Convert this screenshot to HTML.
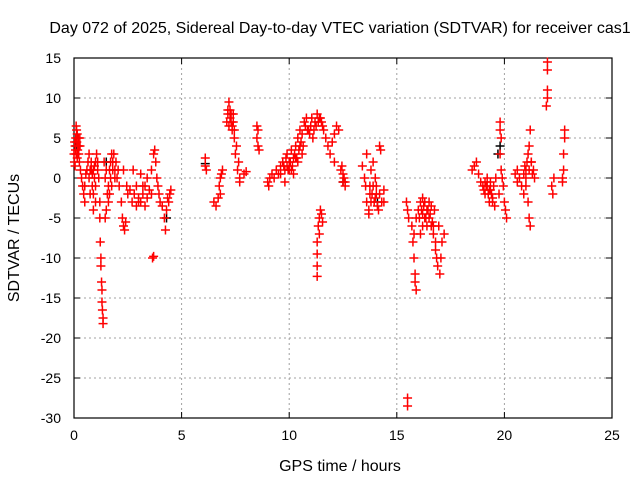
<!DOCTYPE html>
<html><head><meta charset="utf-8"><style>
body{margin:0;background:#fff}
svg{display:block;font-family:"Liberation Sans",sans-serif;font-size:14px}
</style></head><body>
<svg id="c" width="640" height="480">
<text x="340" y="33" text-anchor="middle" style="font-size:16px">Day 072 of 2025, Sidereal Day-to-day VTEC variation (SDTVAR) for receiver cas1</text>
<text transform="translate(19,238) rotate(-90)" text-anchor="middle" style="font-size:16px">SDTVAR / TECUs</text>
<text x="340" y="471" text-anchor="middle" style="font-size:16px">GPS time / hours</text>
<g id="grid"></g><g id="axes"></g><g id="black"></g><g id="red"></g>
</svg>
<script>
const xTicks=[0,5,10,15,20,25];
const yTicks=[15,10,5,0,-5,-10,-15,-20,-25,-30];
const redHours=[0,0.02,0.05,0.08,0.1,0.12,0.15,0.18,0.2,0.22,0.25,0.28,0.3,0.05,0.15,0.1,0.35,0.4,0.45,0.5,0.5,0.55,0.6,0.65,0.7,0.75,0.8,0.85,0.9,0.95,1.0,1.05,1.1,1.15,1.2,0.9,1,1.2,1.22,1.25,1.25,1.28,1.3,1.3,1.32,1.35,1.35,1.4,1.45,1.5,1.55,1.6,1.65,1.7,1.75,1.8,1.85,1.9,1.95,2,2.05,1.5,1.45,2.1,2.2,2.25,2.3,2.35,2.4,2.3,2.45,2.5,2.6,2.7,2.8,2.9,3,3.1,3.2,3.3,3.4,3.5,3.1,3.3,2.75,3.6,3.6,3.7,3.75,3.8,3.85,3.9,3.95,4.0,3.7,3.65,4.1,4.2,4.25,4.3,4.4,4.45,4.5,4.35,6.1,6.1,6.15,6.5,6.6,6.7,6.75,6.8,6.85,6.9,6.8,7.1,7.15,7.2,7.25,7.3,7.35,7.4,7.45,7.5,7.55,7.6,7.65,7.7,7.7,7.3,7.2,7.9,8.0,8.5,8.55,8.5,8.55,8.6,9,9.05,9.1,9.2,9.3,9.4,9.5,9.6,9.7,9.8,9.9,10,10.1,10.2,10.3,10.4,10.5,10.6,10.7,10.8,10.9,11,11.1,11.2,11.3,11.4,11.5,11.6,11.7,11.8,11.9,12.0,12.1,12.2,12.3,12.1,12.4,12.5,12.45,12.5,9.8,10,10.2,10.4,10.6,10.5,9.9,10.1,10.3,11.35,11.4,11.45,11.5,11.55,11.4,11.3,11.3,11.3,11.3,12.55,12.6,12.6,13.4,13.5,13.55,13.6,13.7,13.75,13.8,13.9,13.8,13.9,14,14.05,14.1,14.15,14.2,14.3,14.2,14.25,14.4,14.4,13.6,13.7,15.45,15.5,15.55,15.5,15.5,15.7,15.75,15.8,15.85,15.9,15.85,15.8,15.9,16,16.1,16.2,16.3,16.4,16.5,16.6,16.7,16.8,16.9,17,16.85,17.1,17.2,16.3,16.2,16.1,16.05,16.6,16.5,16.75,16.95,17.05,18.5,18.6,18.7,18.8,18.9,19,19.1,19.2,19.3,19.4,19.5,19.6,19.55,19.45,19.2,19.35,19.1,19.8,19.8,19.85,19.8,19.85,19.9,19.95,20,20.05,20.1,19.75,20.5,20.6,20.7,20.8,20.9,21,21.1,21.15,21.2,21.25,21.3,21.35,21.1,21.15,21.2,20.9,21,21.4,20.6,22,22,22,22,21.95,22.2,22.25,22.3,22.8,22.8,22.75,22.75,22.7,22.7,
0.03,0.07,0.13,0.17,0.23,0.27,0.7,0.8,0.9,1.0,1.1,0.75,0.85,0.95,1.6,1.7,1.8,1.9,1.65,1.75,3.0,3.2,3.4,2.9,7.15,7.25,7.35,7.45,7.4,9.6,9.75,9.85,9.95,10.05,10.15,10.25,10.35,10.45,10.55,10.65,10.75,10.85,10.95,11.05,11.15,11.25,11.35,11.45,11.55,13.85,13.95,14.05,13.75,14.0,16.15,16.25,16.35,16.45,16.55,16.65,16.4,16.2,16.7,16.8,19.05,19.15,19.25,19.35,19.45,19.3,21.05,21.15,21.25,21.0,20.95];
const redValues=[3,2,4,5,3,6,5.5,4,5,3,2,4,1,1.5,2.5,6.5,0,-1,-2,-3,-1,0.5,1,2,3,1,2,-1,-2,0,2,3,2,0,-3,-4,-3,-5,-8,-10,-11,-13,-14,-15.5,-16.5,-17.5,-18.2,2,0,1,-2,-3,1,0,-1,2,3,1,2,0,1,-4,-5,-1,-3,-5,-6,-6.5,-5.5,1,-1,-2,-1.5,-3,-2,-3.5,-2.5,-3,-2,-1,0,-1.5,0.5,-3.5,1,-2,1,3,3.5,2,0,-1,-2,-3,-9.8,-10,-3.5,-5,-6.5,-4,-3,-2,-1.5,-2.5,2.5,1.5,1,-3,-3.5,-2.5,-1,0,0.5,1,-2,7,8,9.5,8.5,7,6,7,5,3,4,1,2,0,-0.5,8,6.5,0.5,0.8,6.5,6,5,4,3.5,-0.5,-1,0,0.5,0,1,0.5,1.5,2,1,3,2,3.5,2.5,4,5,6,5.5,7,7.5,6,6.5,5,7,8,7.5,7,6,5,4,3,4.5,2,6.5,6,5.5,1,-0.5,1.5,0.5,-0.5,1,0.5,2,3,4,1.5,1,2.5,-6,-5,-4,-4.5,-5.5,-7,-8,-9.5,-11,-12.3,0,-0.5,-1,1.5,0,-1,-3,-4,-2,-3,-1,1,2,0,-2,-3.5,-4,-2,-3,4,3.5,-1.5,-3,3,-4.5,-3,-4,-5,-27.5,-28.5,-6,-8,-10,-12,-14,-13,-7,-5,-4,-3,-2.5,-3,-4,-5,-6,-7,-9,-11,-12,-10,-8,-7,-5,-6,-7,-5,-3.5,-3,-4,-6,-10,1,1.5,2,0.5,-0.5,-1,-2,-1,-3,-2,-1,0,-3.5,-3,0,-0.5,-0.5,7,6,5,3,1,0,-1,-3,-4,-5,-2,0.5,1,0,-1,0.5,1,3,4,6,2,0.5,1,-3,-5,-6,-2,-1,0,-0.5,14.5,13.5,11,10,9,-1,-2,0,6,5,3,1,0,-0.5,
4.5,3.5,4.5,3.5,4,5,0,1,1,-1,1,-2,0.5,1.5,-1,2,1,0,-2,3,-3,-1,-2.5,-1,8.5,7.5,6.5,6,8,0.5,1.5,2.5,1,2,1.5,3,2.5,3.5,4.5,4,6.5,6,5.5,7.5,6,6.5,7,7.5,6.5,-2,-3,-1,-1,-2.5,-4,-3.5,-5,-4,-4.5,-5.5,-6,-4.5,-6,-8,-1.5,-1,-2,-1.5,-2.5,-1.5,2,1,2,0,1.5];
const blackHours=[0.1,1.5,19.8,14.1,4.3,6.1,19.7,12.5];
const blackValues=[4,2,4,-3,-5,1.8,3,-0.5];
const X0=74,X1=612,Y0=58,Y1=418,XMIN=0,XMAX=25,YMIN=-30,YMAX=15;
const sx=h=>X0+(h-XMIN)/(XMAX-XMIN)*(X1-X0);
const sy=v=>Y1-(v-YMIN)/(YMAX-YMIN)*(Y1-Y0);
const NS='http://www.w3.org/2000/svg';
function mk(tag,attrs,parent){const e=document.createElementNS(NS,tag);for(const k in attrs)e.setAttribute(k,attrs[k]);parent.appendChild(e);return e;}
const grid=document.getElementById('grid'),axes=document.getElementById('axes');
xTicks.forEach(t=>{const x=sx(t);
 if(t>XMIN&&t<XMAX){const g=mk('line',{x1:x,y1:Y0,x2:x,y2:Y1,stroke:'#a0a0a0','stroke-dasharray':'2,3'},grid);
 
 }
 mk('line',{x1:x,y1:Y1,x2:x,y2:Y1-6,stroke:'#000'},axes);
 mk('line',{x1:x,y1:Y0,x2:x,y2:Y0+6,stroke:'#000'},axes);
 const l=mk('text',{x:x,y:Y1+22,'text-anchor':'middle'},axes);l.textContent=t;
 
 
});
yTicks.forEach(t=>{const y=sy(t);
 if(t>YMIN&&t<YMAX){const g=mk('line',{x1:X0,y1:y,x2:X1,y2:y,stroke:'#a0a0a0','stroke-dasharray':'2,3'},grid);
 
 }
 mk('line',{x1:X0,y1:y,x2:X0+6,y2:y,stroke:'#000'},axes);
 mk('line',{x1:X1,y1:y,x2:X1-6,y2:y,stroke:'#000'},axes);
 const l=mk('text',{x:X0-13,y:y+5,'text-anchor':'end'},axes);l.textContent=t;
 
 
});
const fr=mk('rect',{x:X0,y:Y0,width:X1-X0,height:Y1-Y0,fill:'none',stroke:'#000','stroke-width':1.2},axes);


function plus(hs,vs,color,gid,name){const g=document.getElementById(gid);
 hs.forEach((h,i)=>{const x=sx(h),y=sy(vs[i]);
  const p=mk('path',{d:`M${x-4.5},${y}H${x+4.5}M${x},${y-4.5}V${y+4.5}`,stroke:color,'stroke-width':1.5,fill:'none'},g);
  
  
 });}
plus(blackHours,blackValues,'#000','black','black-point');
plus(redHours,redValues,'#ff0000','red','sdtvar-point');
</script>
</body></html>
